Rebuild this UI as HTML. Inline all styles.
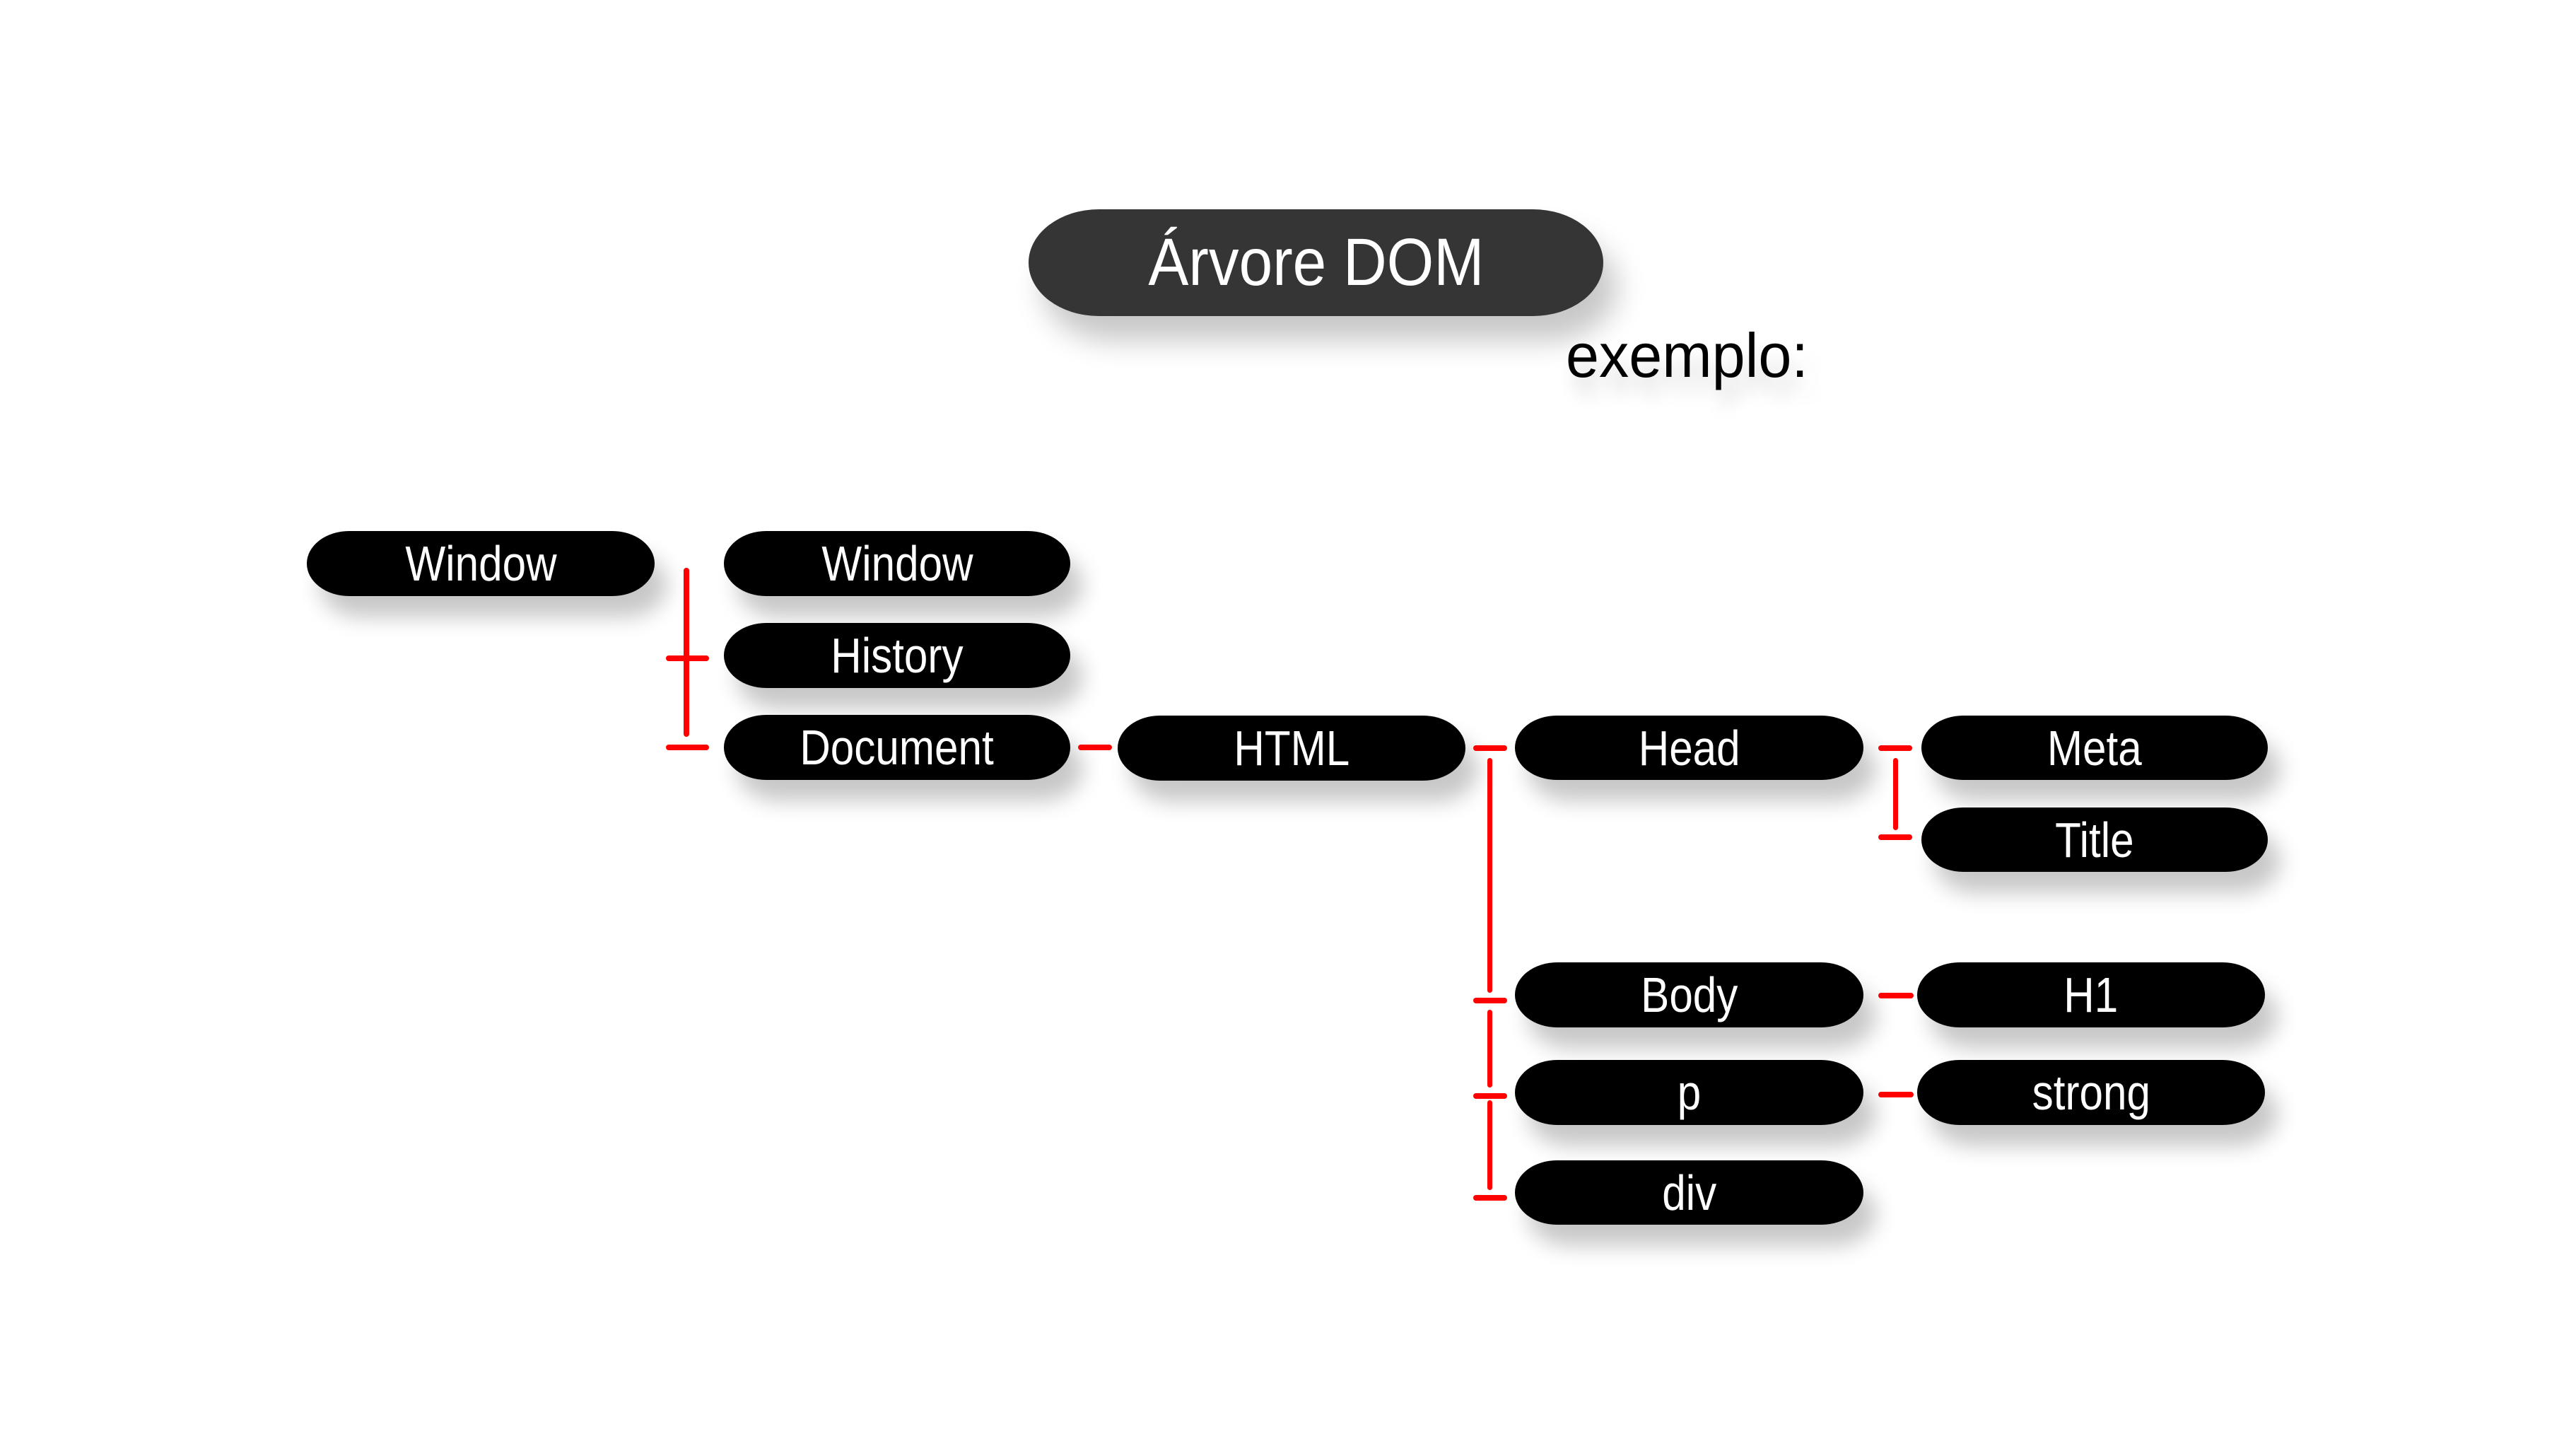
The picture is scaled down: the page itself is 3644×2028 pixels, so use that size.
<!DOCTYPE html>
<html><head><meta charset="utf-8"><style>
html,body{margin:0;padding:0;background:#fff;}
body{width:3644px;height:2028px;position:relative;overflow:hidden;font-family:"Liberation Sans",sans-serif;}
.n{position:absolute;background:#000;border-radius:60px/46px;color:#fff;display:flex;align-items:center;justify-content:center;font-size:70px;box-shadow:18px 30px 30px rgba(0,0,0,0.22);}
.n span{display:inline-block;transform:scaleX(0.86);white-space:nowrap;}
.r{position:absolute;background:#f00;border-radius:4px;}
</style></head><body>
<div class="n" style="left:1455px;top:296px;width:813px;height:151px;background:#353535;border-radius:100px/76px;font-size:95px;box-shadow:20px 35px 40px rgba(0,0,0,0.22);"><span style="transform:scaleX(0.9)">Árvore DOM</span></div>
<div style="position:absolute;left:2215px;top:443px;font-size:88px;line-height:120px;color:#000;text-shadow:10px 25px 25px rgba(0,0,0,0.15);"><span style="display:inline-block;transform:scaleX(0.96);transform-origin:left;">exemplo:</span></div>

<div class="n" style="left:434px;top:751px;width:492px;height:92px;"><span>Window</span></div>
<div class="n" style="left:1024px;top:751px;width:490px;height:92px;"><span>Window</span></div>
<div class="n" style="left:1024px;top:881px;width:490px;height:92px;"><span>History</span></div>
<div class="n" style="left:1024px;top:1011px;width:490px;height:92px;"><span>Document</span></div>
<div class="n" style="left:1581px;top:1012px;width:492px;height:92px;"><span>HTML</span></div>
<div class="n" style="left:2143px;top:1012px;width:493px;height:91px;"><span>Head</span></div>
<div class="n" style="left:2718px;top:1012px;width:490px;height:91px;"><span>Meta</span></div>
<div class="n" style="left:2718px;top:1142px;width:490px;height:91px;"><span>Title</span></div>
<div class="n" style="left:2143px;top:1361px;width:493px;height:92px;"><span>Body</span></div>
<div class="n" style="left:2712px;top:1361px;width:492px;height:92px;"><span>H1</span></div>
<div class="n" style="left:2143px;top:1499px;width:493px;height:92px;"><span>p</span></div>
<div class="n" style="left:2712px;top:1499px;width:492px;height:92px;"><span>strong</span></div>
<div class="n" style="left:2143px;top:1641px;width:493px;height:91px;"><span>div</span></div>

<div class="r" style="left:967px;top:803px;width:8px;height:239px;"></div>
<div class="r" style="left:942px;top:927px;width:61px;height:8px;"></div>
<div class="r" style="left:942px;top:1053px;width:61px;height:8px;"></div>
<div class="r" style="left:1525px;top:1053px;width:48px;height:8px;"></div>

<div class="r" style="left:2084px;top:1054px;width:48px;height:8px;"></div>
<div class="r" style="left:2104px;top:1072px;width:7px;height:332px;"></div>
<div class="r" style="left:2084px;top:1411px;width:48px;height:8px;"></div>
<div class="r" style="left:2104px;top:1428px;width:7px;height:110px;"></div>
<div class="r" style="left:2084px;top:1546px;width:48px;height:8px;"></div>
<div class="r" style="left:2104px;top:1556px;width:7px;height:127px;"></div>
<div class="r" style="left:2084px;top:1690px;width:48px;height:8px;"></div>

<div class="r" style="left:2657px;top:1054px;width:48px;height:8px;"></div>
<div class="r" style="left:2678px;top:1072px;width:7px;height:102px;"></div>
<div class="r" style="left:2657px;top:1180px;width:48px;height:8px;"></div>
<div class="r" style="left:2657px;top:1404px;width:50px;height:8px;"></div>
<div class="r" style="left:2657px;top:1544px;width:50px;height:8px;"></div>
</body></html>
